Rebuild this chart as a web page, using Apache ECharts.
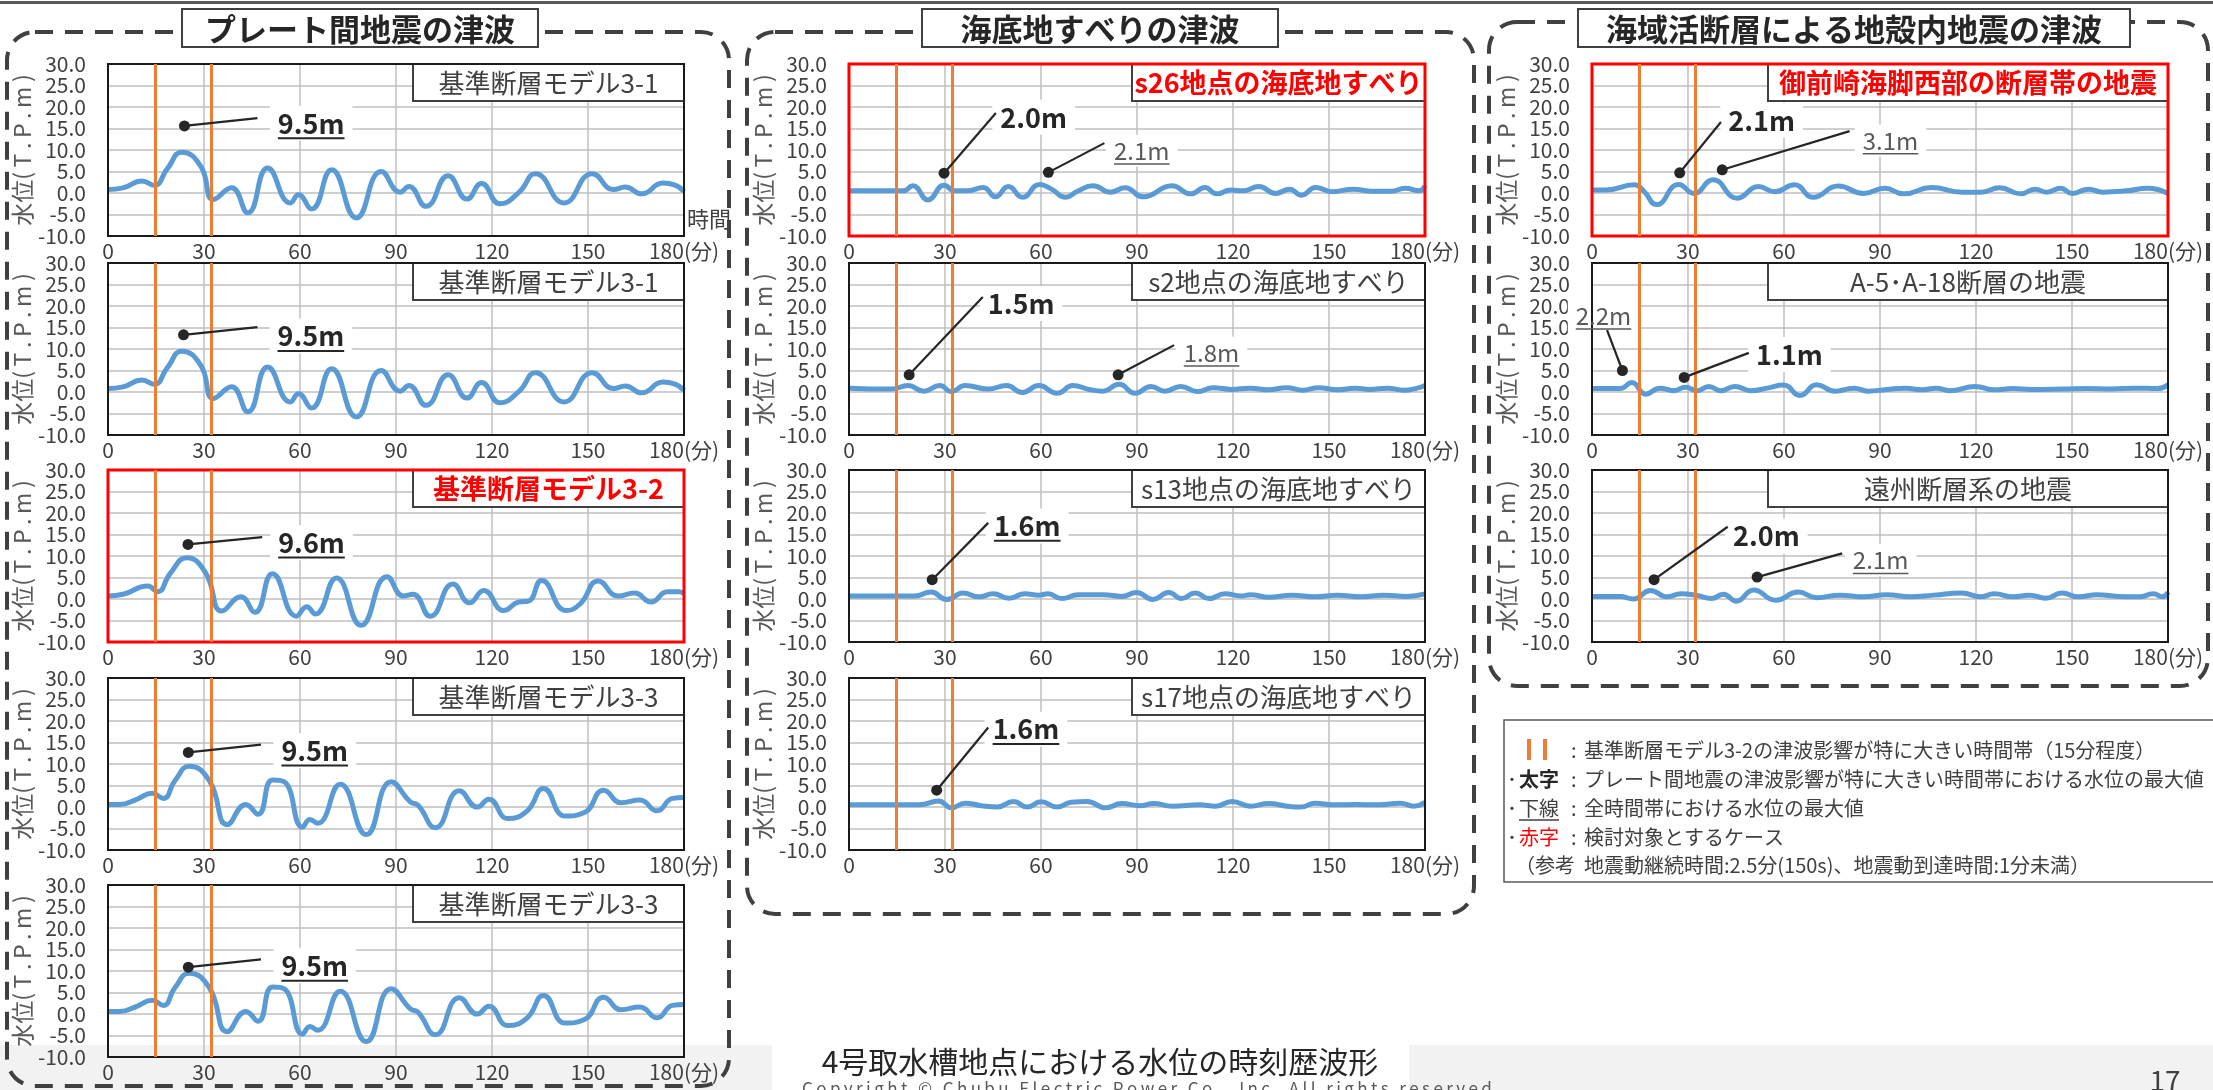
<!DOCTYPE html>
<html>
<head>
<meta charset="utf-8">
<script src="https://cdn.jsdelivr.net/npm/echarts/dist/echarts.min.js"></script>
<style>
  html, body { margin: 0; padding: 0; background: #fff; }
  #main { width: 2213px; height: 1090px; }
</style>
</head>
<body>
<div id="main"></div>
<script>
// ---- data (minutes, water level T.P.m) ----
const xTicks = [0, 30, 60, 90, 120, 150, 180];
const bandEdges = [14.7, 32.2]; // 基準断層モデル3-2の影響が大きい時間帯

const wave31 = [[0,0.8],[4.7,1.2],[10.6,2.8],[14.5,1.8],[18.5,5.6],[23.1,9.5],[29,6.2],[33,-1.5],[38.6,1.2],[43.7,-4.6],[49.9,5.8],[57,-2.3],[59.5,-0.4],[63.6,-3.7],[69.9,5.4],[77.6,-5.8],[85.4,5.0],[91.3,0.2],[94,1.5],[99.4,-3.1],[106.3,4.0],[112.2,-1.4],[116.7,2.2],[122.5,-2.5],[128.5,0.2],[133.6,4.5],[142.5,-2.3],[151.3,4.5],[158,0.8],[161.6,1.4],[166.8,-0.2],[173.4,2.3],[177,1.9],[180,0.4]];
const wave32 = [[0,0.7],[4.7,1.1],[12.4,3.0],[15.5,1.7],[19.4,5.9],[24.6,9.6],[30.5,6.1],[35.6,-2.8],[41.5,0.5],[45.9,-3.1],[51.4,5.9],[58.9,-4.0],[62.1,-1.8],[64.8,-3.5],[71.4,4.9],[79.1,-6.1],[87.2,5.2],[92.3,0.7],[95.3,1.1],[100.7,-4.0],[107.8,3.5],[113,-0.9],[117.4,2.0],[123.7,-2.7],[128.4,-0.7],[131.4,-0.5],[135.5,4.3],[143.2,-2.7],[147.6,-1.1],[153.2,4.2],[159.4,0.7],[164.5,1.4],[169.7,-0.7],[174.8,1.7],[178.5,1.7],[180,1.2]];
const wave33 = [[0,0.6],[3.6,0.6],[9,1.8],[13.8,3.2],[17.3,2.0],[20.9,6.1],[25.4,9.5],[31.7,6.1],[37.3,-4.1],[43.1,0.6],[46.9,-1.7],[51.4,6.3],[55,5.9],[60.8,-4.7],[63.1,-2.9],[65.5,-3.8],[72.6,5.3],[80.7,-6.4],[88.5,5.9],[94.5,1.2],[96.9,0.4],[102.3,-4.8],[109.8,3.8],[115.4,0],[119,1.8],[125,-2.7],[131,-0.9],[136.1,4.3],[142.9,-2.1],[148.9,-1.3],[154.9,3.9],[160.3,1.0],[166.2,1.6],[171.6,-0.9],[176.4,2.0],[180,2.2]];
const waveS26 = [[0,0.5],[17,0.5],[19.9,1.7],[24.7,-1.6],[29.7,1.8],[33.1,0.5],[36.8,0.5],[42,1.3],[45.7,-0.9],[49.8,1.5],[54.2,-1.0],[59.6,2.0],[63.3,0.9],[67.7,-1.0],[71.4,0.4],[76.3,1.7],[81.7,0.2],[86.2,1.2],[92,-0.9],[100.9,1.7],[106.8,-0.2],[111.2,1.3],[114.9,-0.2],[119.3,0.7],[123,0.5],[128.1,1.5],[133.3,-0.1],[137.7,0.9],[141.4,-0.5],[145.8,1.3],[151,0.3],[157.6,0.9],[163.5,0.4],[169.4,0.4],[173.8,1.1],[178.3,0.5],[180,1.7]];
const waveS2 = [[0,0.9],[13.3,0.7],[18.4,1.5],[23.4,0.2],[28.4,1.5],[32,0.1],[36.3,1.5],[43.5,0.7],[49.2,1.5],[54.2,-0.1],[59.3,1.5],[65,-0.3],[70,1.5],[75,0.6],[79.3,0.2],[84.4,1.8],[89.4,-0.3],[94.4,1.3],[98.7,0.2],[103.7,1.3],[108.8,0.1],[113.8,1.0],[119.5,0.6],[125.3,0.9],[131,0.5],[136.7,1.0],[141.8,0.4],[146.8,1.0],[152.5,0.5],[158.3,0.9],[162.6,0.6],[168.3,0.9],[173.3,0.4],[177.6,0.9],[180,1.5]];
const waveS13 = [[0,0.7],[20.5,0.7],[25.6,1.6],[30.6,-0.1],[35.6,1.4],[40.7,0.5],[45,1.2],[50,0.2],[55,1.2],[59.3,0.9],[62.2,1.2],[66.5,0.1],[71.6,1.0],[79.5,1.0],[85.2,0.6],[89.8,1.5],[95,-0.1],[99.9,1.5],[103.9,0.1],[108.2,1.4],[112.5,0.1],[117.5,1.2],[122.6,0.7],[125.4,1.0],[131.2,0.4],[138.4,0.9],[145.6,0.5],[152.7,0.9],[159.9,0.5],[167.1,0.9],[174.3,0.6],[180,1.2]];
const waveS17 = [[0,0.5],[22,0.5],[28,1.4],[32,-0.2],[36.3,0.9],[41.4,0.3],[46.4,0],[51.4,1.3],[55.7,0],[60,1.2],[65,0],[69.4,1.1],[74.4,1.3],[80.2,-0.2],[85.2,0.8],[90.9,0.3],[95.2,0.8],[101,0.2],[109.6,0.5],[114.6,0.2],[119.7,1.3],[125.4,0.2],[131.2,0.8],[136.9,0.2],[141.2,0],[145.6,0.9],[151.3,0.5],[158.5,0.6],[165.7,0.5],[172.2,0.9],[176.5,0.2],[180,1.1]];
const waveGozen = [[0,0.7],[4.4,0.7],[13.2,1.9],[16.1,0.5],[20.2,-2.7],[27.1,2.0],[31.9,-0.1],[37.8,3.1],[45.4,-1.2],[52,1.5],[57.1,0.3],[63.3,1.9],[69.1,-1.0],[76.9,1.6],[84.9,-0.1],[91.5,1.1],[97.4,-0.2],[106.1,1.3],[115.7,0.2],[121.5,0.2],[127.4,1.2],[134,-0.2],[138.4,0.9],[142.1,0.2],[146.4,1.1],[150.1,-0.1],[155.2,0.9],[159.6,0.2],[167,0.5],[173.6,1.1],[180,-0.1]];
const waveA5 = [[0,0.8],[8.8,0.8],[12.4,2.2],[16.8,-0.5],[21.2,0.9],[25.6,0.3],[29.2,1.1],[32.9,0.3],[36.5,1.3],[40.2,0.3],[44.6,1.3],[49.7,0.3],[54.8,0.9],[59.9,1.6],[65,-0.8],[70.2,1.7],[76,0.2],[81.9,0.9],[86.3,0.2],[92.1,0.6],[98,0.9],[103.1,0.5],[107.5,0.9],[111.8,0.3],[119.8,1.3],[125.7,0.5],[131.5,0.8],[137.4,0.6],[147.6,0.7],[154.9,0.8],[162.3,0.7],[169.6,0.9],[176.8,0.8],[180,1.7]];
const waveEnshu = [[0,0.6],[8.8,0.6],[12.9,0],[18.3,2.0],[23.4,0.5],[27.8,1.2],[32.9,0.8],[37.3,0.1],[41,1.1],[45.1,-0.5],[50.5,2.1],[57.4,-0.3],[64.4,1.6],[70.2,0.3],[77.5,0.9],[84.9,0.5],[92.1,1.0],[99.5,0.5],[106.8,0.9],[115.5,1.4],[121.4,0.5],[125.7,1.2],[131.6,0.5],[136.7,0.9],[141.8,0.2],[146.9,1.4],[152,0.5],[157.9,1.0],[164.4,0.6],[171,0.5],[175.4,1.2],[178.3,0.5],[180,1.6]];

// ---- layout ----
const FONT = "'Noto Sans CJK JP', 'Noto Sans', sans-serif";
const colLeft = [108, 849, 1592];
const titleW = [271, 293, 400];
const rowTop = [64, 263, 470, 678, 885];
const plotW = 576, plotH = 172;

const panels = [
  { col: 0, row: 0, title: '基準断層モデル3-1', data: wave31 },
  { col: 0, row: 1, title: '基準断層モデル3-1', data: wave31 },
  { col: 0, row: 2, title: '基準断層モデル3-2', data: wave32, key: true },
  { col: 0, row: 3, title: '基準断層モデル3-3', data: wave33 },
  { col: 0, row: 4, title: '基準断層モデル3-3', data: wave33 },
  { col: 1, row: 0, title: 's26地点の海底地すべり', data: waveS26, key: true },
  { col: 1, row: 1, title: 's2地点の海底地すべり', data: waveS2 },
  { col: 1, row: 2, title: 's13地点の海底地すべり', data: waveS13 },
  { col: 1, row: 3, title: 's17地点の海底地すべり', data: waveS17 },
  { col: 2, row: 0, title: '御前崎海脚西部の断層帯の地震', data: waveGozen, key: true },
  { col: 2, row: 1, title: 'A-5･A-18断層の地震', data: waveA5 },
  { col: 2, row: 2, title: '遠州断層系の地震', data: waveEnshu }
];

// callouts: dot on the wave, end of leader line, label centre (all in data units)
const notes = [
  { p: 0, text: '9.5m', dot: [23.9, 15.6], tip: [46.7, 17.4], at: [63.5, 16.2], bold: true, under: true },
  { p: 1, text: '9.5m', dot: [23.6, 13.3], tip: [46.7, 15.1], at: [63.4, 13.0], bold: true, under: true },
  { p: 2, text: '9.6m', dot: [25, 12.7], tip: [48.2, 14.4], at: [63.6, 13.1], bold: true, under: true },
  { p: 3, text: '9.5m', dot: [25.1, 12.7], tip: [47.8, 14.5], at: [64.6, 13.1], bold: true, under: true },
  { p: 4, text: '9.5m', dot: [25.1, 10.9], tip: [47.8, 12.7], at: [64.6, 11.2], bold: true, under: true },
  { p: 5, text: '2.0m', dot: [29.7, 4.6], tip: [45.9, 18.6], at: [57.7, 17.6], bold: true },
  { p: 5, text: '2.1m', dot: [62.3, 4.8], tip: [79.8, 11.6], at: [91.5, 9.8], under: true },
  { p: 6, text: '1.5m', dot: [18.8, 4.0], tip: [41.8, 22.1], at: [53.8, 20.6], bold: true },
  { p: 6, text: '1.8m', dot: [84.1, 4.0], tip: [101.6, 10.9], at: [113.3, 9.1], under: true },
  { p: 7, text: '1.6m', dot: [26, 4.5], tip: [43.5, 17.7], at: [55.7, 17.0], bold: true, under: true },
  { p: 8, text: '1.6m', dot: [27.4, 3.9], tip: [43.5, 18.5], at: [55.3, 18.1], bold: true, under: true },
  { p: 9, text: '2.1m', dot: [27.4, 4.7], tip: [40.3, 16.5], at: [53, 16.9], bold: true },
  { p: 9, text: '3.1m', dot: [40.7, 5.4], tip: [80.5, 14.4], at: [93.3, 12.2], under: true },
  { p: 10, text: '2.2m', dot: [9.5, 5.0], tip: [4.7, 14.4], at: [3.6, 17.7], under: true },
  { p: 10, text: '1.1m', dot: [28.8, 3.4], tip: [49, 9.1], at: [61.7, 8.75], bold: true },
  { p: 11, text: '2.0m', dot: [19.4, 4.5], tip: [42.4, 16.8], at: [54.5, 14.6], bold: true },
  { p: 11, text: '2.1m', dot: [51.6, 5.1], tip: [78.2, 10.6], at: [90.2, 9.0], under: true }
];

const groups = [
  { title: 'プレート間地震の津波', x: 7, y: 32, w: 722, h: 1054, tx: 182, tw: 356 },
  { title: '海底地すべりの津波', x: 747, y: 32, w: 727, h: 882, tx: 922, tw: 356 },
  { title: '海域活断層による地殻内地震の津波', x: 1489, y: 22, w: 719, h: 664, tx: 1578, tw: 552 }
];

const chart = echarts.init(document.getElementById('main'));

const grids = [], xAxes = [], yAxes = [], series = [];
const gridLine = { show: true, lineStyle: { color: '#BFBFBF', width: 1.5 } };
panels.forEach((p, i) => {
  grids.push({ left: colLeft[p.col], top: rowTop[p.row], width: plotW, height: plotH, show: false });
  xAxes.push({
    type: 'value', gridIndex: i, min: xTicks[0], max: xTicks[xTicks.length - 1], interval: 30,
    axisLine: { show: false }, axisTick: { show: false }, splitLine: gridLine,
    axisLabel: {
      margin: 5, fontSize: 21, color: '#404040', fontFamily: FONT,
      showMinLabel: true, showMaxLabel: true,
      formatter: v => (v === 180 ? '180(分)' : String(v))
    }
  });
  yAxes.push({
    type: 'value', gridIndex: i, min: -10, max: 30, interval: 5,
    axisLine: { show: false }, axisTick: { show: false }, splitLine: gridLine,
    axisLabel: { margin: 22, fontSize: 21, color: '#404040', fontFamily: FONT, showMinLabel: true, showMaxLabel: true,
      formatter: v => v.toFixed(1) },
    name: '水位(\u2009T\u2009.\u2009P\u2009.\u2009m\u2009)', nameLocation: 'middle', nameRotate: 90, nameGap: 67,
    nameTextStyle: { fontSize: 23, color: '#595959', fontFamily: FONT }
  });
  series.push({
    type: 'line', xAxisIndex: i, yAxisIndex: i, data: p.data,
    smooth: 0.5, showSymbol: false, silent: true,
    lineStyle: { color: '#5B9BD5', width: 5 },
    markLine: {
      silent: true, symbol: 'none', label: { show: false },
      lineStyle: { color: '#ED7D31', width: 3, type: 'solid' },
      data: bandEdges.map(t => ({ xAxis: t }))
    }
  });
});

chart.setOption({
  animation: false,
  textStyle: { fontFamily: FONT },
  grid: grids, xAxis: xAxes, yAxis: yAxes, series: series
});

// ---- overlays: frames, titles, callouts, legend, footer ----
const measureCtx = document.createElement('canvas').getContext('2d');
function textWidth(str, size, weight) {
  measureCtx.font = (weight || 'normal') + ' ' + size + 'px ' + FONT;
  return measureCtx.measureText(str).width;
}
function txt(str, x, y, size, opts) {
  opts = opts || {};
  return {
    type: 'text', z: opts.z || 20,
    style: {
      text: str, x: x, y: y, fill: opts.color || '#404040',
      fontSize: size, fontWeight: opts.weight || 'normal', fontFamily: FONT,
      align: opts.align || 'left', verticalAlign: opts.valign || 'middle'
    }
  };
}
function hline(x1, x2, y, color, w, z) {
  return { type: 'line', z: z || 20, shape: { x1: x1, y1: y, x2: x2, y2: y }, style: { stroke: color, lineWidth: w } };
}

const els = [];

// bottom band and top rule
els.push({ type: 'rect', z: -5, shape: { x: 0, y: 1045, width: 2213, height: 45 }, style: { fill: '#F2F2F2' } });
els.push({ type: 'rect', z: -4, shape: { x: 772, y: 1045, width: 637, height: 45 }, style: { fill: '#FFFFFF' } });
els.push({ type: 'rect', z: 1, shape: { x: 0, y: 1, width: 2213, height: 3 }, style: { fill: '#595959' } });

// dashed group frames with their title boxes
groups.forEach(g => {
  els.push({ type: 'rect', z: 1, shape: { x: g.x, y: g.y, width: g.w, height: g.h, r: 28 },
    style: { fill: 'none', stroke: '#404040', lineWidth: 4, lineDash: [18, 12] } });
  els.push({ type: 'rect', z: 5, shape: { x: g.tx, y: 9, width: g.tw, height: 38 },
    style: { fill: '#fff', stroke: '#404040', lineWidth: 2 } });
  els.push(txt(g.title, g.tx + g.tw / 2, 29, 31, { weight: 'bold', align: 'center', color: '#262626', z: 6 }));
});

// plot borders and panel title boxes
panels.forEach((p, i) => {
  const left = colLeft[p.col], top = rowTop[p.row];
  els.push({ type: 'rect', z: 4, shape: { x: left, y: top, width: plotW, height: plotH },
    style: { fill: 'none', stroke: p.key ? '#FF0000' : '#1A1A1A', lineWidth: p.key ? 3 : 2 } });
  const w = titleW[p.col];
  const bx = left + plotW - w;
  els.push({ type: 'rect', z: 3, shape: { x: bx, y: top, width: w, height: 37 },
    style: { fill: '#fff', stroke: '#404040', lineWidth: 2 } });
  els.push(txt(p.title, bx + w / 2, top + 19, p.key ? 27 : 26,
    { align: 'center', weight: p.key ? 'bold' : 'normal', color: p.key ? '#FF0000' : '#404040', z: 6 }));
});
els.push(txt('時間', colLeft[0] + plotW + 3, rowTop[0] + plotH - 17, 22, { color: '#404040' }));

// callouts
notes.forEach(n => {
  const d = chart.convertToPixel({ gridIndex: n.p }, n.dot);
  const t = chart.convertToPixel({ gridIndex: n.p }, n.tip);
  const c = chart.convertToPixel({ gridIndex: n.p }, n.at);
  const size = n.bold ? 27 : 24;
  const weight = n.bold ? 'bold' : 'normal';
  const color = n.bold ? '#262626' : '#595959';
  const w = textWidth(n.text, size, weight);
  els.push({ type: 'rect', z: 1, shape: { x: c[0] - w / 2 - 8, y: c[1] - size / 2 - 4, width: w + 16, height: size + 8 },
    style: { fill: '#fff' } });
  els.push({ type: 'line', z: 20, shape: { x1: d[0], y1: d[1], x2: t[0], y2: t[1] }, style: { stroke: '#262626', lineWidth: 2.2 } });
  els.push({ type: 'circle', z: 21, shape: { cx: d[0], cy: d[1], r: 5.5 }, style: { fill: '#262626' } });
  els.push(txt(n.text, c[0], c[1], size, { align: 'center', weight: weight, color: color }));
  if (n.under) els.push(hline(c[0] - w / 2, c[0] + w / 2, c[1] + size * 0.55, color, n.bold ? 2 : 1.5));
});

// legend box
els.push({ type: 'rect', z: 2, shape: { x: 1504, y: 720, width: 720, height: 162 },
  style: { fill: '#fff', stroke: '#595959', lineWidth: 1.5 } });
bandEdges.forEach((_, k) => {
  const x = 1529 + k * 16;
  els.push({ type: 'line', z: 20, shape: { x1: x, y1: 739, x2: x, y2: 760 }, style: { stroke: '#ED7D31', lineWidth: 4 } });
});
const LF = 20;
els.push(txt(':', 1571, 750, LF));
els.push(txt('基準断層モデル3-2の津波影響が特に大きい時間帯（15分程度）', 1584, 750, LF));
[
  { y: 779, key: '太字', rest: 'プレート間地震の津波影響が特に大きい時間帯における水位の最大値', weight: 'bold' },
  { y: 808, key: '下線', rest: '全時間帯における水位の最大値', under: true },
  { y: 837, key: '赤字', rest: '検討対象とするケース', color: '#FF0000' }
].forEach(l => {
  els.push(txt('･', 1507, l.y, LF));
  els.push(txt(l.key, 1519, l.y, LF, { weight: l.weight, color: l.color || (l.weight ? '#262626' : '#404040') }));
  if (l.under) els.push(hline(1519, 1519 + textWidth(l.key, LF), l.y + 12, '#404040', 1.5));
  els.push(txt(':', 1571, l.y, LF));
  els.push(txt(l.rest, 1584, l.y, LF));
});
els.push(txt('（参考  地震動継続時間:2.5分(150s)、地震動到達時間:1分未満）', 1515, 865, LF));

// footer
els.push(txt('4号取水槽地点における水位の時刻歴波形', 1100, 1062, 30, { align: 'center', color: '#262626' }));
els.push(txt('Copyright © Chubu Electric Power Co., Inc. All rights reserved.'.split('').join('\u2009'),
  1151, 1080, 17, { align: 'center', valign: 'top', color: '#595959' }));
els.push(txt('17', 2165, 1080, 28, { align: 'center', color: '#404040' }));

chart.setOption({ graphic: { elements: els } });
</script>
</body>
</html>
